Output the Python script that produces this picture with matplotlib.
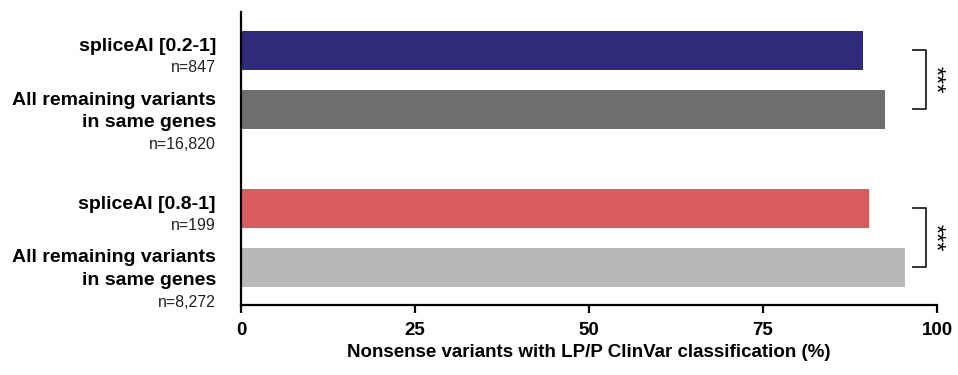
import matplotlib.pyplot as plt
from matplotlib.transforms import blended_transform_factory

plt.rcParams['font.family'] = ['Liberation Sans', 'DejaVu Sans']

# data
labels = ['spliceAI [0.2-1]', 'All remaining variants\nin same genes',
          'spliceAI [0.8-1]', 'All remaining variants\nin same genes']
counts = ['n=847', 'n=16,820', 'n=199', 'n=8,272']
values = [89.4, 92.5, 90.2, 95.4]
colors = ['#2f2a7a', '#6d6e70', '#db5c5f', '#b8b8b8']
positions = [0, 1, 2.67, 3.67]
pairs = [(0, 1), (2, 3)]
stars = ['***', '***']

fig = plt.figure(figsize=(9.58, 3.75), dpi=100)
ax = fig.add_axes([241 / 958, 70 / 375, 696 / 958, 293 / 375])

ax.barh(positions, values, height=0.66, color=colors)
ax.set_xlim(0, 100)
ax.set_ylim(4.31, -0.65)

ax.spines['top'].set_visible(False)
ax.spines['right'].set_visible(False)
ax.spines['left'].set_linewidth(1.6)
ax.spines['bottom'].set_linewidth(1.6)
ax.set_yticks([])
ax.set_xticks([0, 25, 50, 75, 100])
ax.tick_params(axis='x', length=6, width=1.6, labelsize=13.5, pad=6)
for t in ax.get_xticklabels():
    t.set_fontweight('bold')
ax.set_xlabel('Nonsense variants with LP/P ClinVar classification (%)',
              fontsize=13.5, fontweight='bold', labelpad=4)

# category labels on the left
trans = blended_transform_factory(ax.transAxes, ax.transData)
px = 72 / 100
for pos, lab, n in zip(positions, labels, counts):
    nlines = lab.count('\n') + 1
    main_c = 4 - 6 * (nlines - 1)
    n_c = -main_c + nlines * 12 + 9
    ax.annotate(lab, (-0.036, pos), xycoords=trans,
                xytext=(0, main_c * px), textcoords='offset points',
                ha='right', va='center', fontsize=14, fontweight='bold',
                linespacing=1.42, annotation_clip=False)
    ax.annotate(n, (-0.036, pos), xycoords=trans,
                xytext=(0, -n_c * px), textcoords='offset points',
                ha='right', va='center', fontsize=11.5, color='#222222',
                annotation_clip=False)

# significance brackets
for (a, b), s in zip(pairs, stars):
    ya, yb = positions[a], positions[b]
    ax.plot([96.5, 98.4, 98.4, 96.5], [ya, ya, yb, yb], color='#222222',
            lw=1.3, clip_on=False)
    ax.text(99.6, (ya + yb) / 2, s, rotation=270, ha='center',
            va='center', fontsize=17, clip_on=False)

fig.savefig('out.png', dpi=100)
